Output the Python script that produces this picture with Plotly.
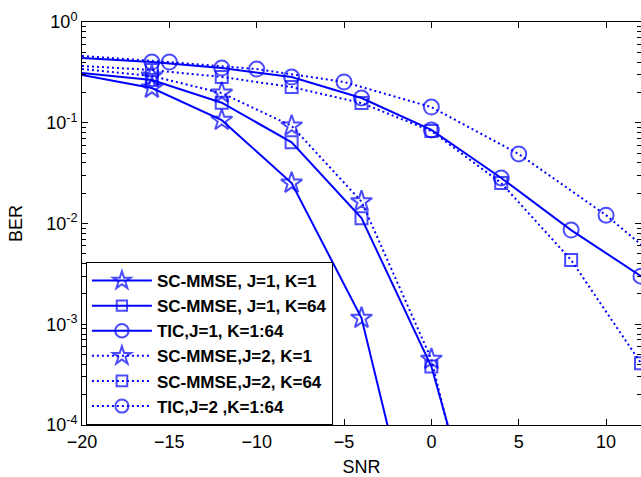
import plotly.graph_objects as go

# ---- data ----
snr_a = [-20, -16, -12, -8, -4, 0, 4, 8, 12]
snr_b = [-20, -15, -10, -5, 0, 5, 10, 15]

ber_sc_j1_k1 = [0.298, 0.221, 0.106, 0.0252, 0.00115, 1.6e-6]
ber_sc_j1_k64 = [0.312, 0.266, 0.158, 0.064, 0.0113, 3.8e-4, 1.3e-6]
ber_tic_j1 = [0.44, 0.40, 0.349, 0.284, 0.176, 0.0848, 0.0283, 0.0086, 0.0030]
ber_sc_j2_k1 = [0.342, 0.291, 0.197, 0.093, 0.0165, 4.5e-4, 6e-7]
ber_sc_j2_k64 = [0.366, 0.334, 0.285, 0.226, 0.157, 0.0828, 0.0252, 0.00434, 4.1e-4]
ber_tic_j2 = [0.46, 0.40, 0.341, 0.254, 0.143, 0.049, 0.0121, 0.00226]

names = ["SC-MMSE, J=1, K=1", "SC-MMSE, J=1, K=64", "TIC,J=1, K=1:64",
         "SC-MMSE,J=2, K=1", "SC-MMSE,J=2, K=64", "TIC,J=2 ,K=1:64"]

x_ticks = [-20, -15, -10, -5, 0, 5, 10]
y_ticks = [1e-4, 1e-3, 1e-2, 1e-1, 1]
y_ticktext = ["10<sup>-4</sup>", "10<sup>-3</sup>", "10<sup>-2</sup>", "10<sup>-1</sup>", "10<sup>0</sup>"]

BLUE = "#0000FF"
FONT = "Liberation Sans, Arial, Helvetica, sans-serif"
DOT = "2px,3px"

series = [
    (snr_a, ber_sc_j1_k1, "star-open", "solid", 16),
    (snr_a, ber_sc_j1_k64, "square-open", "solid", 12),
    (snr_a, ber_tic_j1, "circle-open", "solid", 15),
    (snr_a, ber_sc_j2_k1, "star-open", DOT, 16),
    (snr_a, ber_sc_j2_k64, "square-open", DOT, 12),
    (snr_b, ber_tic_j2, "circle-open", DOT, 15),
]

fig = go.Figure()
for (xs, ys, sym, dash, ms), nm in zip(series, names):
    n = len(ys)
    sizes = [0] + [ms] * (n - 1)  # no marker at the first point (-20 dB)
    fig.add_trace(go.Scatter(
        x=xs[:n], y=ys, name=nm, mode="lines+markers",
        line=dict(color=BLUE, width=2, dash=dash),
        marker=dict(symbol=sym, size=sizes, color=BLUE, line=dict(width=2, color=BLUE)),
    ))

minor_vals = [m * 10 ** e for e in range(-4, 0) for m in range(2, 10)]

fig.update_layout(
    width=641, height=477,
    margin=dict(l=82, r=0, t=22, b=52, autoexpand=False),
    paper_bgcolor="white", plot_bgcolor="white",
    font=dict(family=FONT, size=18, color="black"),
    showlegend=True,
    legend=dict(
        x=0.007, y=0.0, xanchor="left", yanchor="bottom",
        bgcolor="white", bordercolor="black", borderwidth=1,
        font=dict(family=FONT, size=17, color="black", weight="bold"),
        itemwidth=60, tracegroupgap=0,
    ),
    xaxis=dict(
        range=[-20, 12], tickvals=x_ticks, showgrid=False, zeroline=False,
        showline=True, linecolor="black", linewidth=1, mirror="ticks",
        ticks="inside", ticklen=6, tickcolor="black", automargin=False,
        title=dict(text="SNR", standoff=10, font=dict(size=18)),
        tickfont=dict(size=18),
    ),
    yaxis=dict(
        type="log", range=[-4, 0], tickvals=y_ticks, ticktext=y_ticktext,
        showgrid=False, zeroline=False,
        showline=True, linecolor="black", linewidth=1, mirror="ticks",
        ticks="inside", ticklen=6, tickcolor="black", automargin=False,
        minor=dict(ticks="inside", ticklen=4, tickcolor="black", tickvals=minor_vals, showgrid=False),
        title=dict(text="BER", standoff=18, font=dict(size=18)),
        tickfont=dict(size=18),
    ),
)

fig.write_html(
    "out.html",
    config={"displayModeBar": False},
    post_script="document.body.style.margin='0px';document.body.style.overflow='hidden';",
)
